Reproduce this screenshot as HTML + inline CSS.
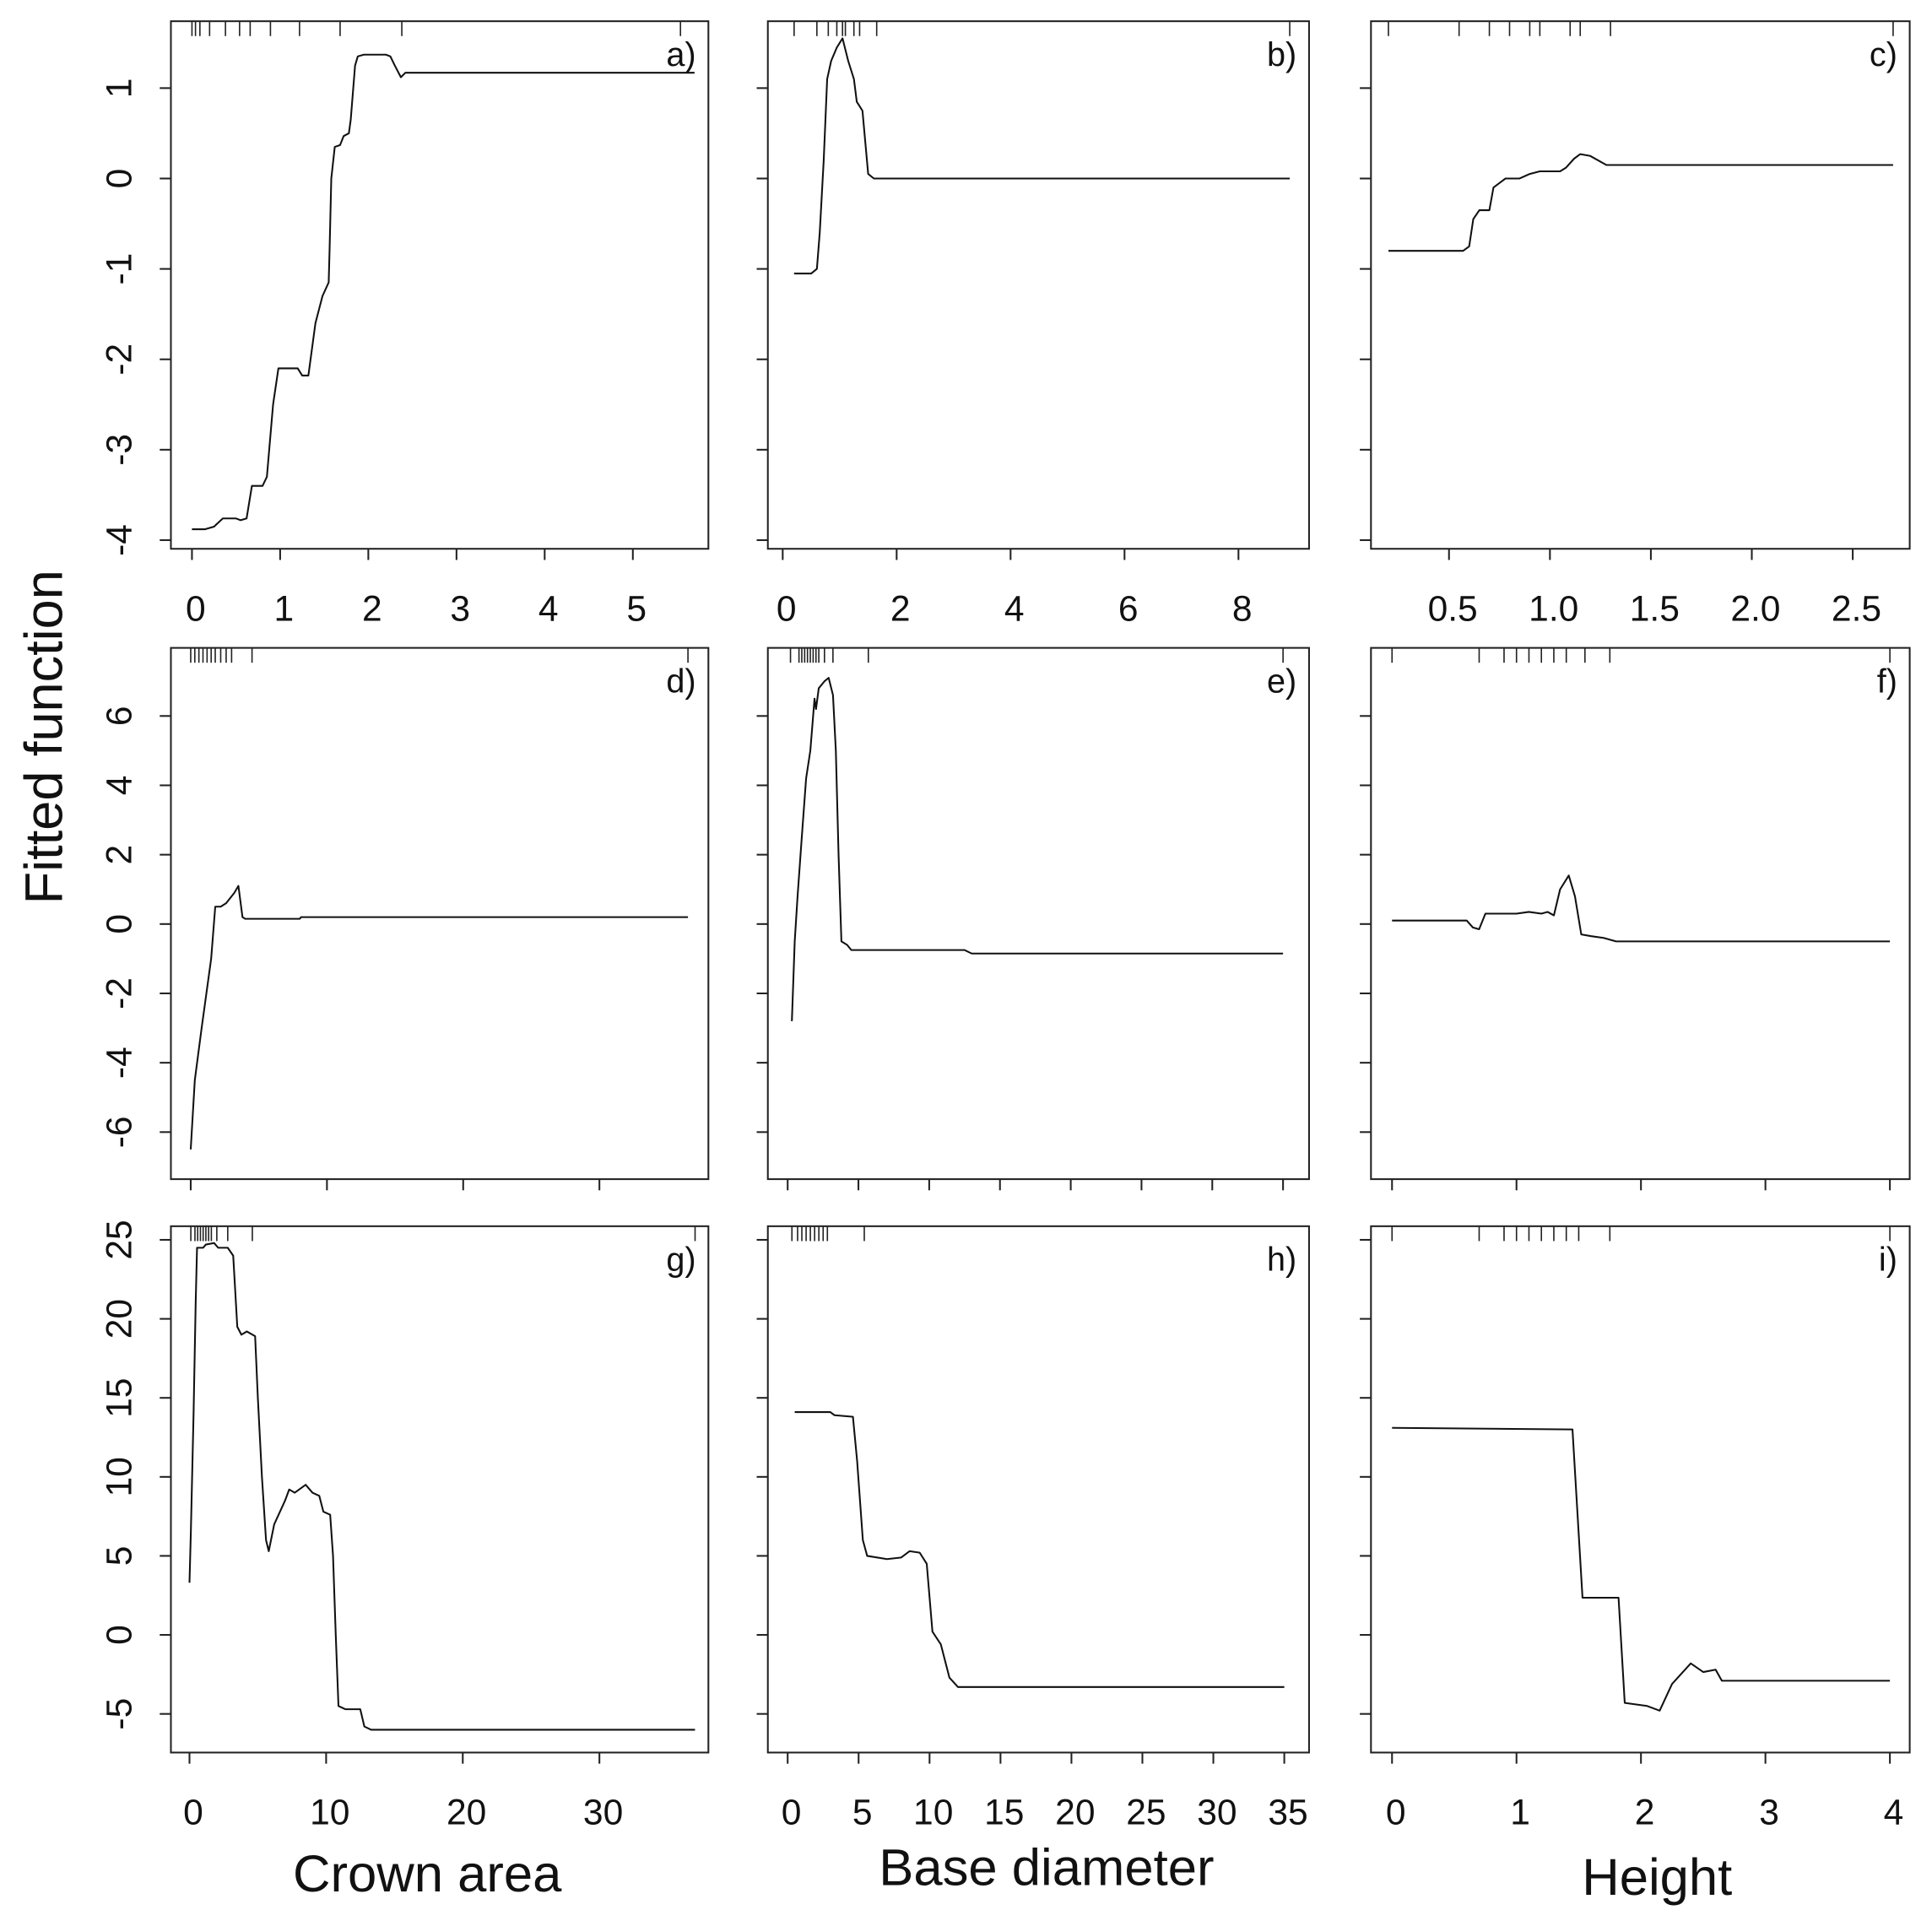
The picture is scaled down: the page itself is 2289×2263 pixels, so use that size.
<!DOCTYPE html>
<html><head><meta charset="utf-8"><style>
html,body{margin:0;padding:0;background:#fff;}
svg{display:block;}
text{font-family:"Liberation Sans",Arial,sans-serif;fill:#111;}
</style></head><body>
<svg id="fig" width="2289" height="2263" viewBox="0 0 1560 1542" xmlns="http://www.w3.org/2000/svg">
<text x="0" y="0" font-size="43" text-anchor="middle" transform="translate(50,595) rotate(-90)">Fitted function</text>
<text x="345" y="1527" font-size="42" text-anchor="middle">Crown area</text>
<text x="845" y="1522" font-size="42" text-anchor="middle">Base diameter</text>
<text x="1338" y="1530" font-size="42" text-anchor="middle">Height</text>
</svg>
<script>
// ---- data ----
const aX=[0,0.15,0.25,0.35,0.5,0.55,0.62,0.68,0.8,0.85,0.92,0.98,1.2,1.25,1.32,1.4,1.48,1.55,1.56,1.58,1.62,1.68,1.72,1.78,1.8,1.85,1.88,1.95,2.2,2.25,2.3,2.37,2.42,5.7];
const aY=[-3.88,-3.88,-3.85,-3.76,-3.76,-3.78,-3.76,-3.4,-3.4,-3.3,-2.5,-2.1,-2.1,-2.18,-2.18,-1.6,-1.3,-1.15,-0.8,0,0.35,0.37,0.47,0.5,0.65,1.25,1.35,1.37,1.37,1.35,1.25,1.12,1.17,1.17];
const aRug=[0,0.04,0.09,0.2,0.38,0.54,0.66,0.89,1.22,1.68,2.38,5.54];
const bX=[0.2,0.5,0.6,0.65,0.72,0.78,0.85,0.95,1.05,1.15,1.25,1.3,1.4,1.45,1.5,1.6,8.9];
const bY=[-1.05,-1.05,-1.0,-0.6,0.2,1.1,1.3,1.45,1.55,1.3,1.1,0.85,0.75,0.4,0.05,0,0];
const bRug=[0.2,0.6,0.8,0.95,1.05,1.1,1.25,1.35,1.65,8.9];
const cX=[0.2,0.57,0.6,0.62,0.65,0.7,0.72,0.78,0.85,0.9,0.95,1.05,1.08,1.12,1.15,1.2,1.28,2.7];
const cY=[-0.8,-0.8,-0.75,-0.45,-0.35,-0.35,-0.1,0,0,0.05,0.08,0.08,0.12,0.22,0.27,0.25,0.15,0.15];
const cRug=[0.2,0.55,0.7,0.8,0.9,0.95,1.1,1.15,1.3,2.7];
const dX=[0,0.3,0.8,1.5,1.8,2.2,2.6,3.2,3.5,3.8,4,8,8.1,36.5];
const dY=[-6.5,-4.5,-3,-1,0.5,0.5,0.6,0.9,1.1,0.2,0.15,0.15,0.2,0.2];
const dRug=[0,0.3,0.6,0.9,1.2,1.5,1.8,2.2,2.6,3.0,4.5,36.5];
const eX=[0.3,0.5,0.7,1.0,1.3,1.6,1.9,2.0,2.2,2.6,2.9,3.2,3.4,3.6,3.8,4.2,4.5,12.5,13,35];
const eY=[-2.8,-0.5,0.8,2.5,4.2,5,6.5,6.2,6.8,7,7.1,6.6,5,2,-0.5,-0.6,-0.75,-0.75,-0.85,-0.85];
const eRug=[0.2,0.8,1.0,1.2,1.4,1.6,1.8,2.0,2.2,2.6,3.2,5.7,35];
const fX=[0,0.6,0.65,0.7,0.75,1.0,1.1,1.2,1.25,1.3,1.35,1.42,1.47,1.52,1.6,1.7,1.8,4];
const fY=[0.1,0.1,-0.1,-0.15,0.3,0.3,0.35,0.3,0.35,0.25,1,1.4,0.8,-0.3,-0.35,-0.4,-0.5,-0.5];
const fRug=[0,0.7,0.9,1.0,1.1,1.2,1.3,1.4,1.55,1.75,4];
const gX=[0,0.1,0.3,0.45,0.55,1,1.2,1.8,2.1,2.8,3.2,3.5,3.8,4.2,4.8,5.0,5.3,5.6,5.8,6.2,7,7.3,7.7,8.5,9,9.5,9.8,10.3,10.5,10.7,10.9,11.4,12.5,12.8,13.3,37];
const gY=[3.3,6.5,14,21,24.5,24.5,24.7,24.8,24.5,24.5,24,19.5,19,19.2,18.9,15,10,6,5.3,7,8.5,9.2,9,9.5,9,8.8,7.8,7.6,5,0,-4.5,-4.7,-4.7,-5.8,-6.0,-6.0];
const gRug=[0.1,0.4,0.6,0.8,1.0,1.2,1.4,1.6,2,2.8,4.6,37];
const hX=[0.5,3,3.3,4.6,4.9,5.3,5.6,7,8,8.6,9.3,9.8,10.2,10.8,11.4,12,35];
const hY=[14.1,14.1,13.9,13.8,11,6,5,4.8,4.9,5.3,5.2,4.5,0.2,-0.6,-2.7,-3.3,-3.3];
const hRug=[0.3,0.7,1.0,1.3,1.6,1.9,2.2,2.5,2.8,5.4];
const iX=[0,1.45,1.53,1.82,1.87,2.05,2.15,2.25,2.4,2.5,2.6,2.65,4];
const iY=[13.1,13.0,2.35,2.35,-4.3,-4.5,-4.8,-3.1,-1.8,-2.35,-2.2,-2.9,-2.9];
const iRug=[0,0.7,0.9,1.0,1.1,1.2,1.3,1.4,1.5,1.75,4];
const row1YTicks=[-4,-3,-2,-1,0,1];
const row2YTicks=[-6,-4,-2,0,2,4,6];
const row3YTicks=[-5,0,5,10,15,20,25];
const xTicksCrown1=[0,1,2,3,4,5];
const xTicksBase1=[0,2,4,6,8];
const xTicksHeight1=[0.5,1.0,1.5,2.0,2.5];
const xTicksCrown=[0,10,20,30];
const xTicksBase=[0,5,10,15,20,25,30,35];
const xTicksHeight=[0,1,2,3,4];

const NS="http://www.w3.org/2000/svg";
const svg=document.getElementById('fig');
function mk(tag,attrs,parent){const e=document.createElementNS(NS,tag);for(const k in attrs)e.setAttribute(k,attrs[k]);(parent||svg).appendChild(e);return e;}
function lin(d0,d1,r0,r1){return v=>r0+(v-d0)*(r1-r0)/(d1-d0);}

const cols=[[138,572],[620,1057],[1107,1542]];
const rows=[[17,443],[523,952],[990,1415]];
const yScales=[lin(0,1,144,71),lin(0,6,746,578),lin(0,25,1320,1001)];
const xScales=[[lin(0,5,155,511),lin(0,8,632,1000),lin(0.5,2.5,1170,1496)],
 [lin(0,30,154,484),lin(0,35,636,1036),lin(0,4,1124,1526)],
 [lin(0,30,153,484),lin(0,35,636,1037),lin(0,4,1124,1526)]];
const panels=[
 [[aX,aY,aRug,'a)',xTicksCrown1,'0'],[bX,bY,bRug,'b)',xTicksBase1,'0'],[cX,cY,cRug,'c)',xTicksHeight1,'1']],
 [[dX,dY,dRug,'d)',xTicksCrown,null],[eX,eY,eRug,'e)',xTicksBase,null],[fX,fY,fRug,'f)',xTicksHeight,null]],
 [[gX,gY,gRug,'g)',xTicksCrown,'0'],[hX,hY,hRug,'h)',xTicksBase,'0'],[iX,iY,iRug,'i)',xTicksHeight,'0']]];
const yTicks=[row1YTicks,row2YTicks,row3YTicks];
const letters='abcdefghi';
for(let r=0;r<3;r++)for(let c=0;c<3;c++){
 const [X,Y,rug,lab,xt,dec]=panels[r][c];
 const xs=xScales[r][c], ys=yScales[r];
 const [x0,x1]=cols[c],[y0,y1]=rows[r];
 const g=mk('g',{});
 
 
 const box=mk('rect',{x:x0,y:y0,width:x1-x0,height:y1-y0,fill:'none',stroke:'#222','stroke-width':1.4},g);
 
 
 for(const t of yTicks[r]){const py=ys(t);
  const tk=mk('line',{x1:x0,x2:x0-9,y1:py,y2:py,stroke:'#222','stroke-width':1.4},g);
  
  
  if(c===0){const tx=mk('text',{'font-size':29,'text-anchor':'middle',transform:`translate(106,${py}) rotate(-90)`},g);
   tx.textContent=String(t);
   
   }
 }
 for(const t of xt){const px=xs(t);
  const tk=mk('line',{x1:px,x2:px,y1:y1,y2:y1+9,stroke:'#222','stroke-width':1.4},g);
  
  
  if(dec!==null){const tx=mk('text',{x:px+3,y:y1+58,'font-size':29,'text-anchor':'middle'},g);
   tx.textContent=dec==='1'?t.toFixed(1):String(t);
   
   }
 }
 for(const v of rug){const px=xs(v);
  const rl=mk('line',{x1:px,x2:px,y1:y0,y2:y0+12,stroke:'#222','stroke-width':1.1},g);
  
  }
 const pts=X.map((v,k)=>xs(v).toFixed(1)+','+ys(Y[k]).toFixed(1)).join(' ');
 const pl=mk('polyline',{points:pts,fill:'none',stroke:'#111','stroke-width':1.4,'stroke-linejoin':'round'},g);
 
 
 const lt=mk('text',{x:x1-10,y:y0+36,'font-size':27,'text-anchor':'end'},g);
 lt.textContent=lab;
 
 
}
</script>
</body></html>
